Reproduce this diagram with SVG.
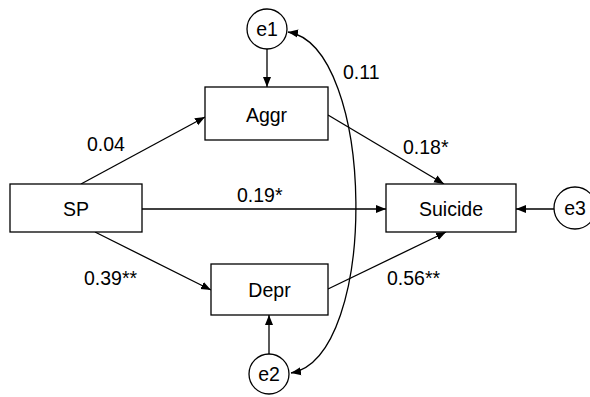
<svg xmlns="http://www.w3.org/2000/svg" width="590" height="397" viewBox="0 0 590 397">
<defs>
<style>
.box{fill:#fff;stroke:#000;stroke-width:1.3}
.c{fill:#fff;stroke:#000;stroke-width:1.3}
.ln{fill:none;stroke:#000;stroke-width:1.3}
text{font-family:"Liberation Sans",Arial,sans-serif;font-size:19.5px;fill:#000}
.m{text-anchor:middle}
</style>
<marker id="ah" viewBox="0 0 10 10" refX="10" refY="5" markerWidth="10" markerHeight="10" markerUnits="userSpaceOnUse" orient="auto-start-reverse">
<path d="M0,1 L10,5 L0,9 Z" fill="#000"/>
</marker>
</defs>
<rect width="590" height="397" fill="#fff"/>
<g id="connectors">
<line class="ln" x1="81" y1="184" x2="205" y2="117" marker-end="url(#ah)"/>
<line class="ln" x1="142" y1="209" x2="386" y2="209" marker-end="url(#ah)"/>
<line class="ln" x1="95" y1="232" x2="211" y2="290" marker-end="url(#ah)"/>
<line class="ln" x1="328" y1="115" x2="444" y2="184" marker-end="url(#ah)"/>
<line class="ln" x1="328" y1="289" x2="446" y2="232" marker-end="url(#ah)"/>
<line class="ln" x1="267" y1="49" x2="267" y2="87" marker-end="url(#ah)"/>
<line class="ln" x1="269" y1="354" x2="269" y2="315" marker-end="url(#ah)"/>
<line class="ln" x1="554" y1="209" x2="516" y2="209" marker-end="url(#ah)"/>
<path class="ln" d="M288,32 C376,46 380,357 291,373" marker-start="url(#ah)" marker-end="url(#ah)"/>
</g>
<g id="SP"><rect class="box" x="10" y="184" width="132" height="48"/><text class="m" x="76" y="216">SP</text></g>
<g id="Aggr"><rect class="box" x="205" y="87" width="123" height="53"/><text class="m" x="266.5" y="122">Aggr</text></g>
<g id="Depr"><rect class="box" x="211" y="264" width="117" height="51"/><text class="m" x="269.5" y="297">Depr</text></g>
<g id="Suicide"><rect class="box" x="386" y="184" width="130" height="48"/><text class="m" x="451" y="216">Suicide</text></g>
<g id="e1"><circle class="c" cx="267" cy="29" r="20"/><text class="m" x="267" y="36">e1</text></g>
<g id="e2"><circle class="c" cx="269" cy="374" r="20"/><text class="m" x="269" y="381">e2</text></g>
<g id="e3"><circle class="c" cx="575" cy="208" r="21"/><text class="m" x="575" y="215">e3</text></g>
<g id="labels">
<text x="87" y="151">0.04</text>
<text x="343" y="79">0.11</text>
<text x="403" y="154">0.18*</text>
<text x="237" y="202">0.19*</text>
<text x="84" y="285">0.39**</text>
<text x="387" y="285">0.56**</text>
</g>
</svg>
